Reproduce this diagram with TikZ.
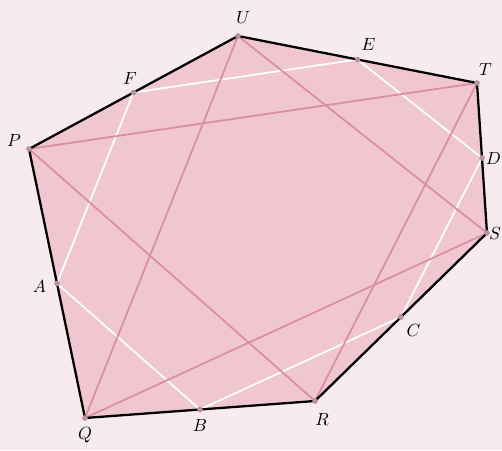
\documentclass[tikz,border=0pt]{standalone}
\usepackage{amsmath}
\usepackage{xcolor}
\usepackage{tikz}
\usetikzlibrary{calc,positioning}
\definecolor{paperpink}{HTML}{F8EBEF}
\definecolor{facepink}{HTML}{F0C6D1}
\definecolor{starpink}{HTML}{D98EA3}
\definecolor{dotgrey}{HTML}{B8909E}
\tikzset{
  rim/.style   = {line width=1.3pt, black, line join=round},
  star/.style  = {line width=1pt, starpink},
  mids/.style  = {line width=1pt, white},
  lbl/.style   = {inner sep=1pt}
}

\begin{document}
\begin{tikzpicture}
\useasboundingbox[fill=paperpink] (0,0) rectangle (10.04,9);
\coordinate (U) at (4.76,8.28);
\coordinate (T) at (9.54,7.34);
\coordinate (S) at (9.74,4.34);
\coordinate (R) at (6.30,0.98);
\coordinate (Q) at (1.70,0.64);
\coordinate (P) at (0.58,6.02);
\coordinate (E) at ($(U)!0.5!(T)$);
\coordinate (D) at ($(T)!0.5!(S)$);
\coordinate (C) at ($(S)!0.5!(R)$);
\coordinate (B) at ($(R)!0.5!(Q)$);
\coordinate (A) at ($(Q)!0.5!(P)$);
\coordinate (F) at ($(P)!0.5!(U)$);
\fill[facepink] (U)--(T)--(S)--(R)--(Q)--(P)--cycle;
\draw[mids] (F)--(E)--(D)--(C)--(B)--(A)--cycle;
\draw[star] (U)--(S)--(Q)--cycle;
\draw[star] (T)--(R)--(P)--cycle;
\draw[rim] (U)--(T)--(S)--(R)--(Q)--(P)--cycle;
\foreach \v in {U,E,T,D,S,C,R,B,Q,A,P,F}
  \fill[dotgrey] (\v) circle (1.6pt);
\node[lbl, above=6pt of U, xshift=3pt] (lU) {$U$};
\node[lbl, above right=4pt and 1pt of E] (lE) {$E$};
\node[lbl, above right=3pt and 0pt of T] (lT) {$T$};
\node[lbl, right=1pt of D] (lD) {$D$};
\node[lbl, right=0pt of S] (lS) {$S$};
\node[lbl, below right=3pt and 2pt of C] (lC) {$C$};
\node[lbl, below=6pt of R, xshift=4pt] (lR) {$R$};
\node[lbl, below=4.5pt of B] (lB) {$B$};
\node[lbl, below=4pt of Q] (lQ) {$Q$};
\node[lbl, left=5pt of A, yshift=-1.5pt] (lA) {$A$};
\node[lbl, above left=0.5pt and 3.5pt of P] (lP) {$P$};
\node[lbl, above=3.5pt of F, xshift=-2pt] (lF) {$F$};
\end{tikzpicture}
\end{document}
